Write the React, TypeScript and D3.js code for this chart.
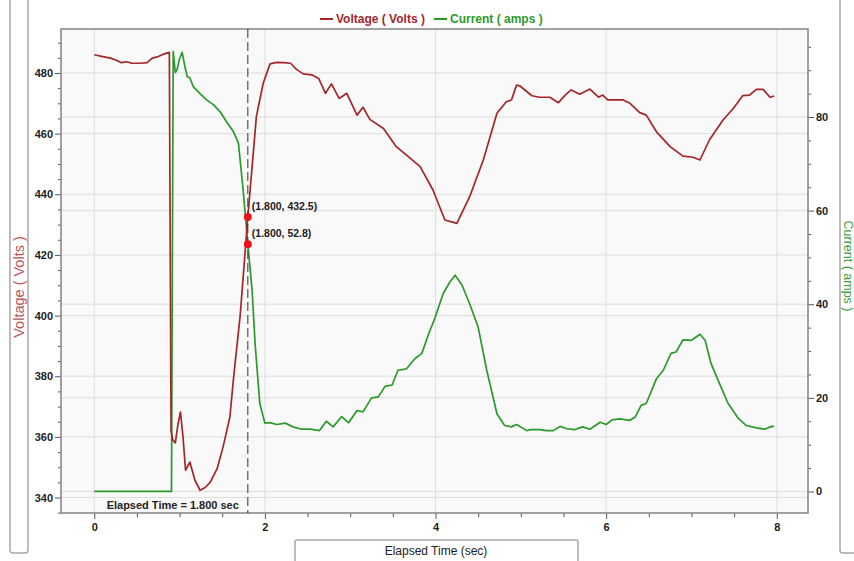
import { useEffect, useRef } from "react";
import * as d3 from "d3";

// voltage trace (sec, volts)
const voltageTime = [
  0.0, 0.1, 0.19, 0.25, 0.32, 0.38, 0.44, 0.54, 0.62, 0.68, 0.75, 0.81, 0.88, 0.9, 0.92, 0.95, 0.98, 1.01,
  1.04, 1.07, 1.12, 1.18, 1.24, 1.3, 1.36, 1.44, 1.51, 1.59, 1.63, 1.71, 1.8, 1.9, 1.98, 2.06, 2.14, 2.22,
  2.3, 2.37, 2.45, 2.55, 2.63, 2.71, 2.78, 2.87, 2.96, 3.08, 3.15, 3.23, 3.39, 3.54, 3.66, 3.82, 3.97, 4.11,
  4.19, 4.25, 4.4, 4.56, 4.72, 4.83, 4.89, 4.95, 4.99, 5.13, 5.22, 5.34, 5.44, 5.52, 5.59, 5.69, 5.81, 5.91,
  5.96, 6.02, 6.2, 6.28, 6.39, 6.47, 6.59, 6.75, 6.9, 7.02, 7.1, 7.21, 7.37, 7.49, 7.6, 7.68, 7.76, 7.84,
  7.92, 7.97,
];
const voltageValues = [
  486.0, 485.4, 484.9, 484.3, 483.4, 483.7, 483.2, 483.2, 483.4, 484.9, 485.4, 486.2, 486.8, 362, 359, 358,
  364, 368.2, 360, 349, 351.7, 345.7, 342.4, 343.3, 345.1, 349.5, 356.7, 366.6, 378.7, 400, 432.5, 465.6,
  476.6, 483, 483.5, 483.4, 483.2, 481.2, 479.7, 479.4, 478.2, 473.3, 476.4, 471.6, 473.3, 466.1, 468.7,
  464.7, 461.7, 455.7, 452.9, 449.1, 441.4, 431.5, 430.9, 430.4, 439.2, 451.3, 466.7, 470.5, 471.1, 476,
  475.7, 472.5, 472, 472, 470.2, 472.7, 474.4, 473, 474.7, 472, 472.7, 471.1, 471.1, 470, 467, 466.1, 460.6,
  455.7, 452.6, 452.2, 451.3, 457.9, 464.5, 468.3, 472.5, 472.7, 474.6, 474.6, 472, 472.4,
];

// current trace (sec, amps)
const currentTime = [
  0.0, 0.905, 0.925, 0.95, 0.97, 1.0, 1.03, 1.06, 1.09, 1.12, 1.16, 1.24, 1.32, 1.4, 1.48, 1.55, 1.63, 1.69,
  1.745, 1.8, 1.85, 1.885, 1.94, 2.0, 2.06, 2.14, 2.24, 2.33, 2.43, 2.53, 2.64, 2.72, 2.8, 2.9, 2.98, 3.08,
  3.15, 3.25, 3.33, 3.41, 3.49, 3.56, 3.66, 3.76, 3.84, 3.92, 3.99, 4.09, 4.17, 4.23, 4.31, 4.4, 4.5, 4.6,
  4.72, 4.81, 4.89, 4.95, 5.07, 5.11, 5.22, 5.3, 5.38, 5.46, 5.54, 5.63, 5.72, 5.81, 5.93, 6.0, 6.07, 6.16,
  6.28, 6.34, 6.41, 6.47, 6.59, 6.67, 6.76, 6.82, 6.9, 7.0, 7.1, 7.16, 7.23, 7.33, 7.43, 7.55, 7.64, 7.76,
  7.86, 7.94, 7.97,
];
const currentValues = [
  0, 0, 94, 89.5, 90.1, 92.5, 93.8, 91, 88.6, 88.4, 86.5, 85, 83.6, 82.6, 81, 79, 76.9, 74.4, 64.4, 52.8, 43,
  31.6, 18.8, 14.6, 14.7, 14.3, 14.6, 13.8, 13.3, 13.3, 13, 15, 13.8, 16, 14.7, 17.3, 17, 20, 20.2, 22.5,
  22.7, 25.9, 26.2, 28.4, 29.5, 33.7, 36.9, 42.3, 44.8, 46.2, 44.1, 40.1, 35.1, 25.9, 16.6, 14.1, 13.8, 14.3,
  13, 13.2, 13.2, 13, 13, 13.9, 13.4, 13.2, 13.8, 13.3, 14.8, 14.3, 15.3, 15.5, 15.2, 15.9, 18.4, 18.8, 24.1,
  25.9, 29.5, 29.8, 32.4, 32.3, 33.6, 32.3, 27.3, 23, 18.8, 15.6, 14.1, 13.6, 13.3, 13.9, 13.9,
];

const timeTicks = [0, 2, 4, 6, 8];
const voltageTicks = [340, 360, 380, 400, 420, 440, 460, 480];
const currentTicks = [0, 20, 40, 60, 80];

const cursorTime = 1.8;
const cursorVoltage = 432.5;
const cursorCurrent = 52.8;

const VCOLOR = "#a3262b";
const ICOLOR = "#2b9a2b";

export default function App() {
  const svgRef = useRef<SVGSVGElement>(null);

  useEffect(() => {
    if (!svgRef.current) return;
    const svg = d3.select(svgRef.current);
    svg.selectAll("*").remove();

    const left = 61, right = 808, top = 29, bottom = 513;
    const font = "'Liberation Sans', Arial, sans-serif";

    const x = d3.scaleLinear().domain([-0.39, 8.366]).range([left, right]);
    const yV = d3.scaleLinear().domain([334.9, 494.5]).range([bottom, top]);
    const yI = d3.scaleLinear().domain([-4.6, 98.8]).range([bottom, top]);

    // outer boxes
    svg.append("rect").attr("x", 10).attr("y", -6).attr("width", 18).attr("height", 559).attr("rx", 3)
      .attr("fill", "#fff").attr("stroke", "#a8a8a8").attr("stroke-width", 1.5);
    svg.append("rect").attr("x", 840).attr("y", -6).attr("width", 30).attr("height", 559).attr("rx", 3)
      .attr("fill", "#fff").attr("stroke", "#a8a8a8").attr("stroke-width", 1.5);
    svg.append("rect").attr("x", 295).attr("y", 540).attr("width", 283).attr("height", 30).attr("rx", 2)
      .attr("fill", "#fff").attr("stroke", "#a8a8a8").attr("stroke-width", 1.5);

    svg.append("text").attr("transform", "translate(19,287) rotate(-90)").attr("text-anchor", "middle")
      .attr("dominant-baseline", "central").attr("font-family", font).attr("font-size", "14.5px")
      .attr("fill", "#c25256").text("Voltage ( Volts )");
    svg.append("text").attr("transform", "translate(848,266) rotate(90)").attr("text-anchor", "middle")
      .attr("dominant-baseline", "central").attr("font-family", font).attr("font-size", "12.5px")
      .attr("fill", "#3aa03a").text("Current ( amps )");
    svg.append("text").attr("x", 436).attr("y", 551).attr("text-anchor", "middle")
      .attr("dominant-baseline", "central").attr("font-family", font).attr("font-size", "12px")
      .attr("fill", "#222").text("Elapsed Time (sec)");

    // plot background + grid
    svg.append("rect").attr("x", left).attr("y", top).attr("width", right - left).attr("height", bottom - top)
      .attr("fill", "#f9f9f9");
    const grid = svg.append("g").attr("stroke", "#dedede").attr("stroke-width", 1);
    timeTicks.forEach((t) => grid.append("line").attr("x1", x(t)).attr("x2", x(t)).attr("y1", top).attr("y2", bottom));
    voltageTicks.forEach((v) => grid.append("line").attr("x1", left).attr("x2", right).attr("y1", yV(v)).attr("y2", yV(v)));
    currentTicks.forEach((v) => grid.append("line").attr("x1", left).attr("x2", right).attr("y1", yI(v)).attr("y2", yI(v)));

    // axes
    const styleAxis = (sel: d3.Selection<SVGGElement, unknown, null, undefined>) => {
      sel.select(".domain").remove();
      sel.selectAll("line").attr("stroke", "#555");
      sel.selectAll("text").attr("font-family", font).attr("font-size", "11px").attr("font-weight", "bold").attr("fill", "#222");
    };
    const minorV = d3.range(335, 495, 5).filter((v) => v % 20 !== 0);
    const minorI = d3.range(0, 99, 5).filter((v) => v % 20 !== 0);
    const minorT = d3.range(0, 8.4, 0.5).filter((v) => v % 2 !== 0);

    svg.append("g").attr("transform", `translate(${left},0)`)
      .call(d3.axisLeft(yV).tickValues(minorV).tickSize(3).tickFormat(() => "")).call(styleAxis);
    svg.append("g").attr("transform", `translate(${left},0)`)
      .call(d3.axisLeft(yV).tickValues(voltageTicks).tickSize(6).tickPadding(2)).call(styleAxis);
    svg.append("g").attr("transform", `translate(${right},0)`)
      .call(d3.axisRight(yI).tickValues(minorI).tickSize(3).tickFormat(() => "")).call(styleAxis);
    svg.append("g").attr("transform", `translate(${right},0)`)
      .call(d3.axisRight(yI).tickValues(currentTicks).tickSize(6).tickPadding(2)).call(styleAxis);
    svg.append("g").attr("transform", `translate(0,${bottom})`)
      .call(d3.axisBottom(x).tickValues(minorT).tickSize(4).tickFormat(() => "")).call(styleAxis);
    svg.append("g").attr("transform", `translate(0,${bottom})`)
      .call(d3.axisBottom(x).tickValues(timeTicks).tickSize(6).tickPadding(4)).call(styleAxis);

    // frame
    svg.append("rect").attr("x", left).attr("y", top).attr("width", right - left).attr("height", bottom - top)
      .attr("fill", "none").attr("stroke", "#8a8a8a").attr("stroke-width", 1.6);

    // series
    const vLine = d3.line<number>().x((_, i) => x(voltageTime[i])).y((d) => yV(d));
    const iLine = d3.line<number>().x((_, i) => x(currentTime[i])).y((d) => yI(d));
    svg.append("path").datum(currentValues).attr("d", iLine).attr("fill", "none")
      .attr("stroke", ICOLOR).attr("stroke-width", 1.7).attr("stroke-linejoin", "round");
    svg.append("path").datum(voltageValues).attr("d", vLine).attr("fill", "none")
      .attr("stroke", VCOLOR).attr("stroke-width", 1.7).attr("stroke-linejoin", "round");

    // cursor
    svg.append("line").attr("x1", x(cursorTime)).attr("x2", x(cursorTime)).attr("y1", top).attr("y2", bottom)
      .attr("stroke", "#333").attr("stroke-width", 1).attr("stroke-dasharray", "9,4");
    svg.append("text").attr("x", x(cursorTime) - 9).attr("y", 505).attr("text-anchor", "end")
      .attr("dominant-baseline", "central").attr("font-family", font).attr("font-size", "11px")
      .attr("font-weight", "bold").attr("fill", "#222").text("Elapsed Time = 1.800 sec");

    [
      { y: yV(cursorVoltage), label: `(1.800, ${cursorVoltage.toFixed(1)})` },
      { y: yI(cursorCurrent), label: `(1.800, ${cursorCurrent.toFixed(1)})` },
    ].forEach((p) => {
      svg.append("circle").attr("cx", x(cursorTime)).attr("cy", p.y).attr("r", 4).attr("fill", "#e8141a");
      svg.append("text").attr("x", x(cursorTime) + 4).attr("y", p.y - 11).attr("dominant-baseline", "central")
        .attr("font-family", font).attr("font-size", "10.5px").attr("font-weight", "bold").attr("fill", "#222")
        .text(p.label);
    });

    // legend
    const legend = [
      { x: 320, color: VCOLOR, label: "Voltage ( Volts )" },
      { x: 434, color: ICOLOR, label: "Current ( amps )" },
    ];
    legend.forEach((l) => {
      svg.append("line").attr("x1", l.x).attr("x2", l.x + 13).attr("y1", 19).attr("y2", 19)
        .attr("stroke", l.color).attr("stroke-width", 2);
      svg.append("text").attr("x", l.x + 16).attr("y", 19).attr("dominant-baseline", "central")
        .attr("font-family", font).attr("font-size", "12px").attr("font-weight", "bold").attr("fill", l.color)
        .text(l.label);
    });
  }, []);

  return (
    <svg ref={svgRef} width={854} height={561}
      style={{ position: "absolute", left: 0, top: 0, background: "#fff", display: "block" }} />
  );
}
